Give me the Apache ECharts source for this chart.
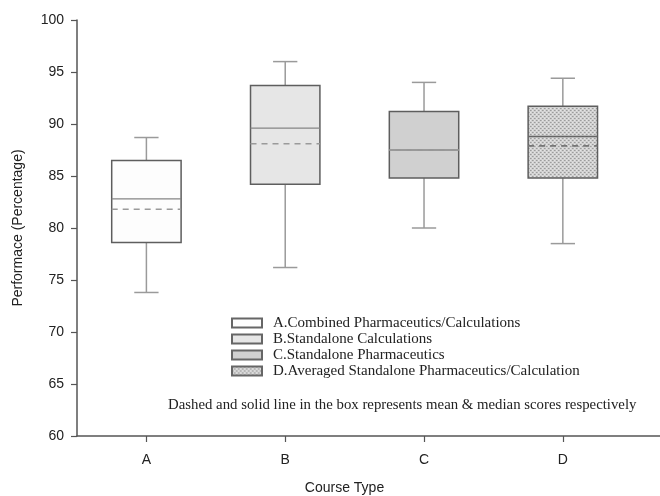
<!DOCTYPE html>
<html>
<head>
<meta charset="utf-8">
<script src="https://cdn.jsdelivr.net/npm/echarts@6/dist/echarts.min.js"></script>
<style>
  html, body { margin: 0; padding: 0; background: #fff; }
  #main { width: 660px; height: 496px; }
</style>
</head>
<body>
<div id="main"></div>
<script>
// course types and box statistics
var categories = ['A', 'B', 'C', 'D'];
var courseNames = [
  'A.Combined Pharmaceutics/Calculations',
  'B.Standalone Calculations',
  'C.Standalone Pharmaceutics',
  'D.Averaged Standalone Pharmaceutics/Calculation'
];
var whiskerLow  = [73.8, 76.2, 80.0, 78.5];
var q1          = [78.6, 84.2, 84.8, 84.8];
var median      = [82.8, 89.6, 87.5, 88.8];
var q3          = [86.5, 93.7, 91.2, 91.7];
var whiskerHigh = [88.7, 96.0, 94.0, 94.4];
var mean        = [81.8, 88.1, 87.5, 87.9];
var yTicks = [60, 65, 70, 75, 80, 85, 90, 95, 100];

// dotted texture for box D
function makeDots() {
  var c = document.createElement('canvas');
  c.width = 4; c.height = 4;
  var ctx = c.getContext('2d');
  ctx.fillStyle = '#d2d2d2';
  ctx.fillRect(0, 0, 4, 4);
  ctx.fillStyle = '#9c9c9c';
  ctx.fillRect(0, 0, 1, 1);
  ctx.fillRect(2, 2, 1, 1);
  ctx.fillStyle = '#b4b4b4';
  ctx.fillRect(1, 0, 1, 1);
  ctx.fillRect(3, 2, 1, 1);
  ctx.fillStyle = '#e4e4e4';
  ctx.fillRect(2, 0, 1, 1);
  ctx.fillRect(0, 2, 1, 1);
  return { image: c, repeat: 'repeat' };
}

var fills = ['#fdfdfd', '#e6e6e6', '#d0d0d0', makeDots()];

var chart = echarts.init(document.getElementById('main'));

function renderBox(params, api) {
  var x = api.value(0);
  var pLow = api.coord([x, api.value(1)]);
  var pQ1 = api.coord([x, api.value(2)]);
  var pMed = api.coord([x, api.value(3)]);
  var pQ3 = api.coord([x, api.value(4)]);
  var pHigh = api.coord([x, api.value(5)]);
  var pMean = api.coord([x, api.value(6)]);
  var half = api.size([0.5, 0])[0] / 2;
  var cap = api.size([0.175, 0])[0] / 2;
  var cx = pMed[0];
  var whisk = { stroke: '#9a9a9a', lineWidth: 1.5 };
  return {
    type: 'group',
    children: [
      { type: 'line', shape: { x1: cx, y1: pQ3[1], x2: cx, y2: pHigh[1] }, style: whisk },
      { type: 'line', shape: { x1: cx - cap, y1: pHigh[1], x2: cx + cap, y2: pHigh[1] }, style: whisk },
      { type: 'line', shape: { x1: cx, y1: pQ1[1], x2: cx, y2: pLow[1] }, style: whisk },
      { type: 'line', shape: { x1: cx - cap, y1: pLow[1], x2: cx + cap, y2: pLow[1] }, style: whisk },
      {
        type: 'rect',
        shape: { x: cx - half, y: pQ3[1], width: half * 2, height: pQ1[1] - pQ3[1] },
        style: { fill: api.visual('color'), stroke: '#5e5e5e', lineWidth: 1.5 }
      },
      { type: 'line', shape: { x1: cx - half, y1: pMed[1], x2: cx + half, y2: pMed[1] },
        style: { stroke: params.seriesIndex === 3 ? '#666' : '#858585', lineWidth: 1.3 } },
      { type: 'line', shape: { x1: cx - half, y1: pMean[1], x2: cx + half, y2: pMean[1] },
        style: { stroke: params.seriesIndex === 3 ? '#777' : '#9a9a9a', lineWidth: 1.6, lineDash: [6, 5] } }
    ]
  };
}

var series = categories.map(function (c, i) {
  return {
    name: courseNames[i],
    type: 'custom',
    renderItem: renderBox,
    itemStyle: { color: fills[i], borderColor: '#666', borderWidth: 1 },
    encode: { x: 0, y: [1, 2, 3, 4, 5, 6] },
    data: [[i + 0.5, whiskerLow[i], q1[i], median[i], q3[i], whiskerHigh[i], mean[i]]],
    silent: true
  };
});

var tickPos = categories.map(function (c, i) { return i + 0.5; });

chart.setOption({
  backgroundColor: '#fff',
  animation: false,
  title: {
    text: 'Dashed and solid line in the box represents mean & median scores respectively',
    left: 168,
    top: 398,
    padding: 0,
    textStyle: { fontFamily: 'Liberation Serif', fontSize: 14.8, fontWeight: 'normal', color: '#222' }
  },
  legend: {
    orient: 'vertical',
    left: 226,
    top: 310,
    icon: 'rect',
    itemWidth: 30,
    itemHeight: 9,
    itemGap: 0,
    selectedMode: false,
    textStyle: { fontFamily: 'Liberation Serif', fontSize: 15, color: '#222', lineHeight: 16, padding: [0, 0, 0, 6] },
    data: courseNames
  },
  grid: { left: 77, right: 0, top: 20, bottom: 60, containLabel: false, outerBoundsMode: 'none' },
  xAxis: {
    type: 'value',
    min: 0,
    max: 4.2,
    name: 'Course Type',
    nameLocation: 'middle',
    nameGap: 45,
    nameTextStyle: { fontFamily: 'Liberation Sans', fontSize: 14, color: '#222', padding: [0, 48, 0, 0] },
    axisLine: { show: true, lineStyle: { color: '#555', width: 1.5 } },
    axisTick: { show: true, length: 6, customValues: tickPos, lineStyle: { color: '#555', width: 1.2 } },
    axisLabel: {
      customValues: tickPos,
      margin: 17,
      fontFamily: 'Liberation Sans', fontSize: 14, color: '#222',
      formatter: function (v) { return categories[Math.round(v - 0.5)]; }
    },
    splitLine: { show: false }
  },
  yAxis: {
    type: 'value',
    min: yTicks[0],
    max: yTicks[yTicks.length - 1],
    interval: 5,
    name: 'Performace (Percentage)',
    nameLocation: 'middle',
    nameGap: 52,
    nameTextStyle: { fontFamily: 'Liberation Sans', fontSize: 14, color: '#222' },
    axisLine: { show: true, lineStyle: { color: '#555', width: 1.5 } },
    axisTick: { show: true, length: 6, lineStyle: { color: '#555', width: 1.2 } },
    axisLabel: { margin: 13, fontFamily: 'Liberation Sans', fontSize: 14, color: '#222' },
    splitLine: { show: false }
  },
  series: series
});
</script>
</body>
</html>
